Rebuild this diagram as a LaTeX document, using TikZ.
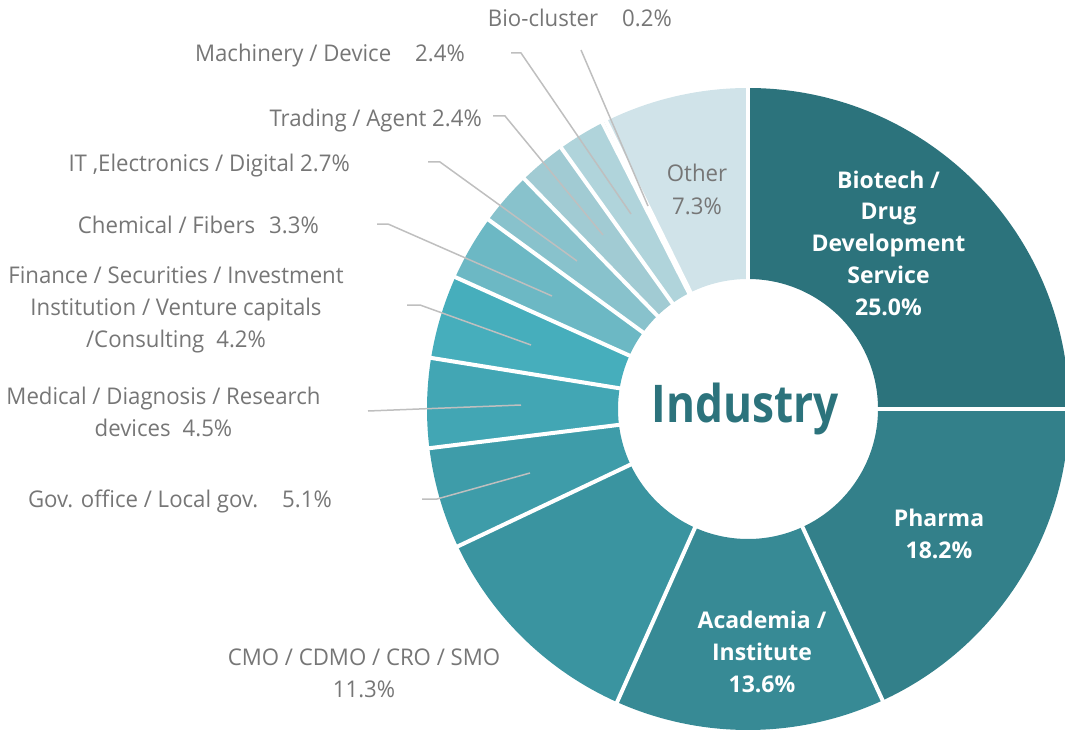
\documentclass[tikz,border=0pt]{standalone}
\usepackage{fontspec}
\setmainfont{Open Sans}
\newfontfamily\indfont[FakeStretch=0.85]{Open Sans}
\newfontfamily\lblfont[FakeStretch=0.965]{Open Sans}
\definecolor{cBio}{HTML}{2C737C}
\definecolor{cPh}{HTML}{33808A}
\definecolor{cAc}{HTML}{378A95}
\definecolor{cCmo}{HTML}{3A94A0}
\definecolor{cGov}{HTML}{3E9CA9}
\definecolor{cMed}{HTML}{42A6B4}
\definecolor{cFin}{HTML}{46AEBC}
\definecolor{cChem}{HTML}{6CB8C4}
\definecolor{cIT}{HTML}{88C2CC}
\definecolor{cTr}{HTML}{A1CBD3}
\definecolor{cMa}{HTML}{B0D4DB}
\definecolor{cBc}{HTML}{C2DDE3}
\definecolor{cOt}{HTML}{D0E3E9}
\definecolor{txtgrey}{HTML}{767676}
\definecolor{leadgrey}{HTML}{BFBFBF}
\begin{document}
\begin{tikzpicture}[x=1bp,y=1bp,
  lbl/.style={text=txtgrey, font=\fontsize{23bp}{32bp}\lblfont, inner sep=0pt},
  wlbl/.style={text=white, font=\fontsize{23bp}{31.7bp}\selectfont\bfseries, inner sep=0pt, align=center, anchor=base},
  lead/.style={draw=leadgrey, line width=1.5bp},
  gapline/.style={draw=white, line width=4bp}]
\useasboundingbox (0,0) rectangle (1065,-731);
\clip (0,0) rectangle (1065,-731);
\coordinate (C) at (748,-409);
\begin{scope}[shift={(748,-409)}]
\foreach \a/\b/\c in {90/0/cBio, 0/-65.21/cPh, -65.21/-114.07/cAc,
  -114.07/-154.67/cCmo, -154.67/-172.99/cGov, -172.99/-189.16/cMed,
  -189.16/-204.25/cFin, -204.25/-216.11/cChem, -216.11/-225.81/cIT,
  -225.81/-234.43/cTr, -234.43/-243.05/cMa, -243.05/-243.77/cBc, -243.77/-270/cOt}
{
  \fill[fill=\c] (\a:321bp) arc[start angle=\a, end angle=\b, radius=321bp]
    -- (\b:130bp) arc[start angle=\b, end angle=\a, radius=130bp] -- cycle;
}
\foreach \a in {90, 0, -65.21, -114.07, -154.67, -172.99, -189.16, -204.25,
  -216.11, -225.81, -234.43, -243.05, -243.77}
{
  \draw[gapline] (\a:120bp) -- (\a:330bp);
}
\end{scope}

% centre title
\node[anchor=base, inner sep=0pt, text=cBio, font=\fontsize{52bp}{60bp}\indfont\bfseries] (ind) at (745.5,-422) {Industry};

% labels inside slices
\node[wlbl] (biotech) at (888.5,-315) {Biotech /\\Drug\\Development\\Service\\25.0\%};
\node[wlbl] (pharma) at (939,-558) {Pharma\\18.2\%};
\node[wlbl] (acad) at (762,-692) {Academia /\\Institute\\13.6\%};
\node[lbl, align=center, anchor=base] (other) at (697,-214) {Other\\7.3\%};

% outside labels
\node[lbl, anchor=base east] (bio) at (672,-27) {Bio-cluster\hspace{24bp}0.2\%};
\node[lbl, anchor=base east] (mach) at (465,-62) {Machinery / Device\hspace{24bp}2.4\%};
\node[lbl, anchor=base east] (trad) at (482,-127) {Trading / Agent 2.4\%};
\node[lbl, anchor=base east] (it) at (350,-172) {IT ,Electronics / Digital 2.7\%};
\node[lbl, anchor=base east] (chem) at (319,-233) {Chemical / Fibers\hspace{14bp}3.3\%};
\node[lbl, align=center, anchor=base] (fin) at (176,-347) {Finance / Securities / Investment\\Institution / Venture capitals\\/Consulting\hspace{12bp}4.2\%};
\node[lbl, align=center, anchor=base] (med) at (163.5,-436) {Medical / Diagnosis / Research\\devices\hspace{12bp}4.5\%};
\node[lbl, anchor=base east] (gov) at (332,-507) {Gov. office / Local gov.\hspace{24bp}5.1\%};
\node[lbl, align=center, anchor=base] (cmo) at (364,-697) {CMO / CDMO / CRO / SMO\\11.3\%};

% leader lines
\coordinate (bcA) at (581,-50);  \coordinate (bcB) at (648,-206);
\coordinate (maA) at (511,-53);  \coordinate (maK) at (521,-53);  \coordinate (maB) at (631,-214);
\coordinate (trA) at (493,-116); \coordinate (trK) at (505,-116); \coordinate (trB) at (603,-235);
\coordinate (itA) at (428,-162); \coordinate (itK) at (440,-162); \coordinate (itB) at (577,-261);
\coordinate (chA) at (377,-224); \coordinate (chK) at (388,-224); \coordinate (chB) at (552,-296);
\coordinate (fiA) at (407,-305); \coordinate (fiK) at (420,-305); \coordinate (fiB) at (531,-345);
\coordinate (meA) at (368,-411); \coordinate (meB) at (521,-405);
\coordinate (goA) at (422,-499); \coordinate (goK) at (437,-499); \coordinate (goB) at (530,-473);
\draw[lead] (bcA) -- (bcB);
\draw[lead] (maA) -- (maK) -- (maB);
\draw[lead] (trA) -- (trK) -- (trB);
\draw[lead] (itA) -- (itK) -- (itB);
\draw[lead] (chA) -- (chK) -- (chB);
\draw[lead] (fiA) -- (fiK) -- (fiB);
\draw[lead] (meA) -- (meB);
\draw[lead] (goA) -- (goK) -- (goB);
\end{tikzpicture}
\end{document}
